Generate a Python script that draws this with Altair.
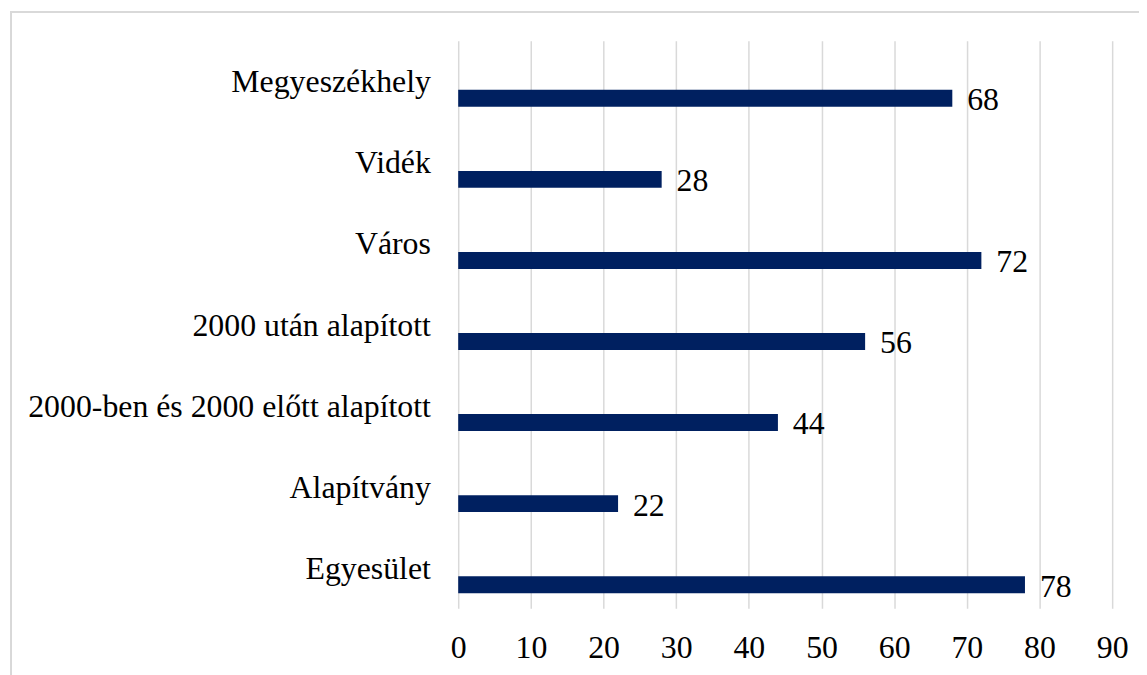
import altair as alt
import pandas as pd

categories = ["Megyeszékhely", "Vidék", "Város", "2000 után alapított",
              "2000-ben és 2000 előtt alapított", "Alapítvány", "Egyesület"]
values = [68, 28, 72, 56, 44, 22, 78]

df = pd.DataFrame({"cat": categories, "val": values})

FONT = "Liberation Serif"
FS = 32
W, H = 658, 571

y_enc = alt.Y("cat:N", sort=categories, title=None,
              scale=alt.Scale(paddingInner=0, paddingOuter=0),
              axis=alt.Axis(domain=False, ticks=False, grid=False,
                            labelFont=FONT, labelFontSize=FS, labelColor="#000000",
                            labelPadding=28, labelLimit=600, labelOffset=1))
x_enc = alt.X("val:Q", title=None,
              scale=alt.Scale(domain=[0, 90], nice=False),
              axis=alt.Axis(values=list(range(0, 100, 10)), domain=False, ticks=False,
                            grid=True, gridColor="#d9d9d9", gridWidth=1.5,
                            labelFont=FONT, labelFontSize=FS, labelColor="#000000",
                            labelPadding=24, labelFlush=False))

bars = alt.Chart(df).mark_bar(size=17, yOffset=17, color="#002060").encode(
    x=x_enc, y=y_enc)

labels = alt.Chart(df).mark_text(align="left", baseline="middle", dx=15, yOffset=19,
                                 font=FONT, fontSize=FS, color="#000000").encode(
    x="val:Q", y=alt.Y("cat:N", sort=categories), text="val:Q")

border = alt.Chart(df).mark_rect(fill=None, stroke="#d9d9d9", strokeWidth=2).encode(
    x=alt.value(-450), x2=alt.value(760), y=alt.value(-29), y2=alt.value(760))

chart = alt.layer(border, bars, labels).properties(
    width=W, height=H,
    autosize=alt.AutoSizeParams(type="none"),
    padding={"left": 453, "top": 31, "right": 27, "bottom": 65},
).configure_view(stroke=None)

chart.save("out.html", embed_options={"renderer": "svg", "actions": False})
